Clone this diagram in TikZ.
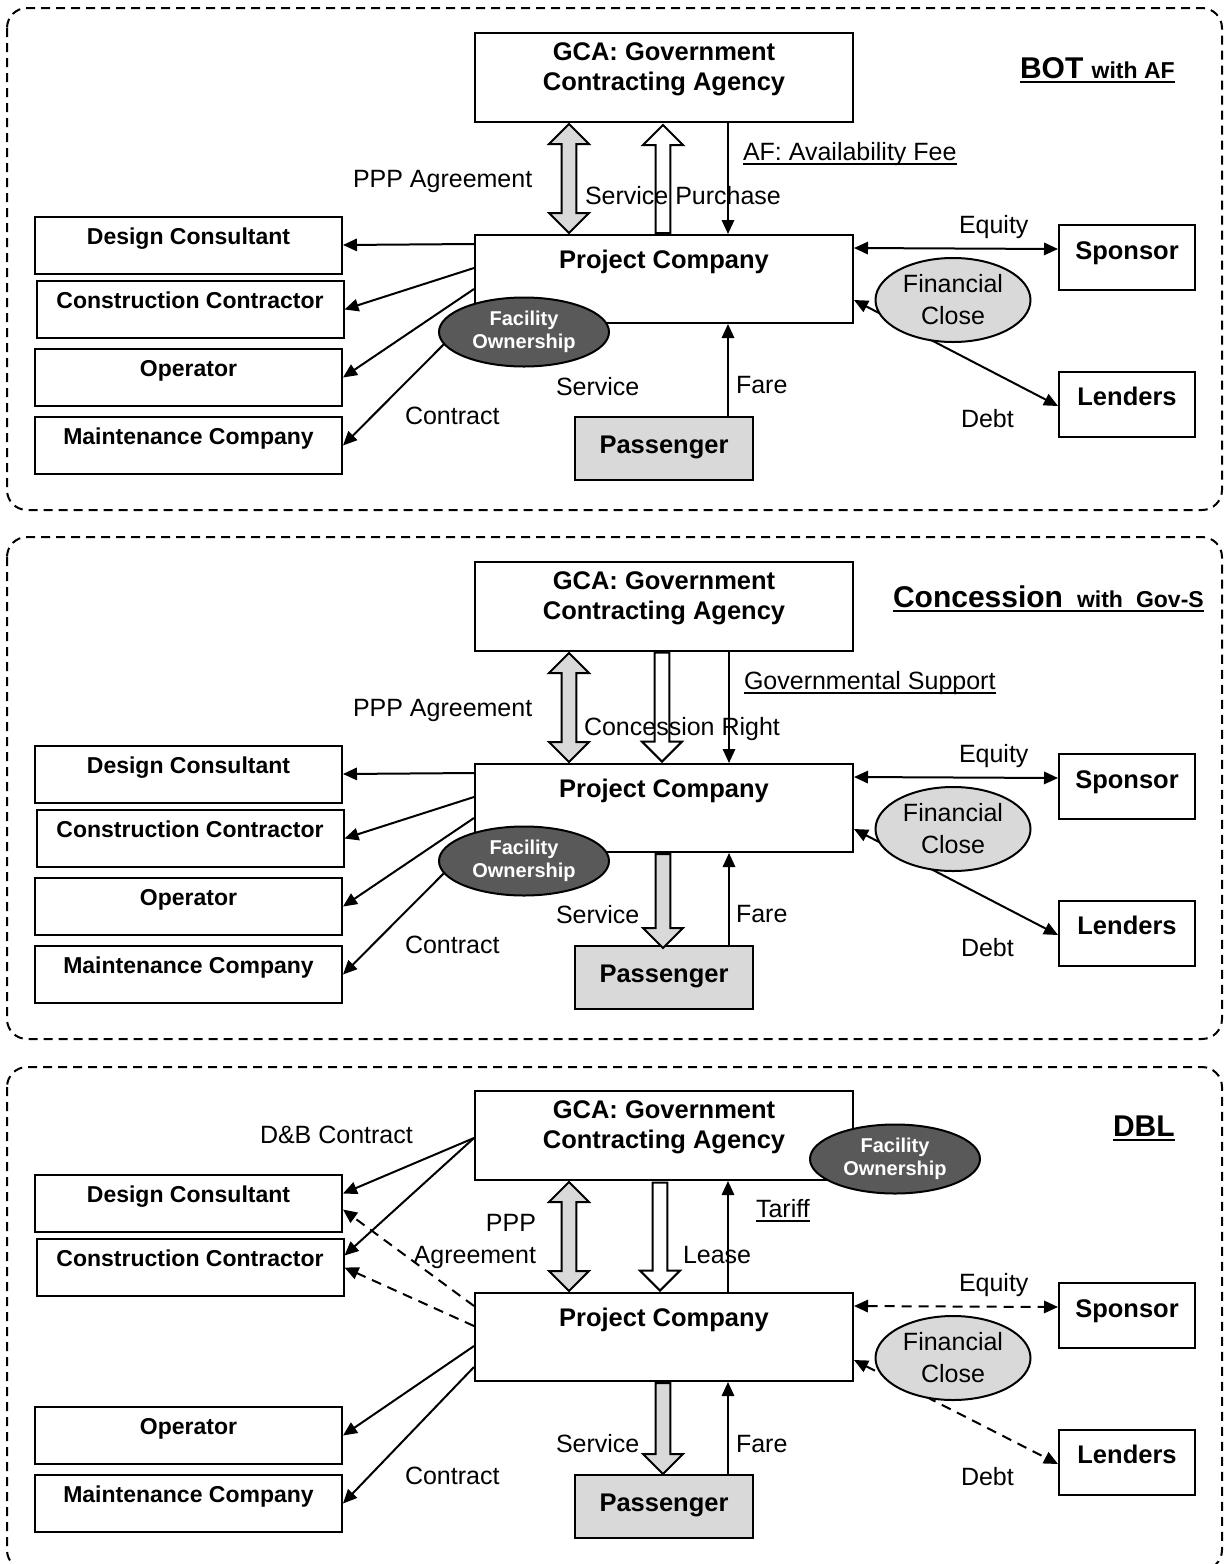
\documentclass[tikz,border=0pt]{standalone}
\usepackage{fontspec}
\setmainfont{Liberation Sans}
\usepackage{tikz}
\usetikzlibrary{shapes,arrows.meta,calc}
\newsavebox{\undlbox}
\newcommand{\undl}[1]{\sbox\undlbox{#1}\rlap{\rule[-2.4pt]{\wd\undlbox}{0.9pt}}\usebox\undlbox}
\newcommand{\boxfont}{\bfseries\fontsize{12.75}{15}\selectfont}
\newcommand{\sidefont}{\bfseries\fontsize{11.5}{14}\selectfont}
\newcommand{\flowfont}{\fontsize{12.5}{16}\selectfont}
\newcommand{\ownfont}{\bfseries\fontsize{10}{11.5}\selectfont}
\newcommand{\twolines}[2]{\begin{tabular}[t]{@{}c@{}}#1\\#2\end{tabular}}
\tikzstyle{agency} = [draw, fill=white, rectangle, minimum width=189pt, inner sep=0pt, font=\boxfont]
\tikzstyle{firm} = [draw, fill=white, rectangle, minimum width=153.5pt, inner sep=0pt, text height=13.75pt, text depth=14.75pt, font=\sidefont]
\tikzstyle{party} = [draw, fill=white, rectangle, minimum width=68pt, inner sep=0pt, text height=17pt, text depth=15.5pt, font=\boxfont]
\tikzstyle{user} = [draw, fill=black!15, rectangle, minimum width=89pt, inner sep=0pt, text height=18pt, text depth=13.5pt, font=\boxfont]
\tikzstyle{ownership} = [draw, ellipse, fill=black!65, text=white, minimum width=85pt, minimum height=34.5pt, inner sep=0pt, align=center, font=\ownfont]
\tikzstyle{closing} = [draw, ellipse, fill=black!15, minimum width=77.5pt, minimum height=42pt, inner sep=0pt, align=center, font=\flowfont]
\tikzstyle{flow} = [inner sep=0pt, anchor=base west, font=\flowfont]
\tikzstyle{twoway} = [draw, fill=black!15, double arrow, rotate=90, double arrow head extend=6.35pt, inner sep=3.15pt, minimum height=54.5pt]
\tikzstyle{grayway} = [draw, fill=black!15, single arrow, single arrow head extend=6.35pt, inner sep=3.15pt]
\tikzstyle{openway} = [draw, fill=white, single arrow, single arrow head extend=6.35pt, inner sep=3.15pt]
\tikzstyle{panel} = [draw, dash pattern=on 4.5pt off 3pt, rounded corners=10pt]
\tikzstyle{pending} = [dash pattern=on 5pt off 3.5pt]

\begin{document}
\begin{tikzpicture}[x=0.5pt, y=-0.5pt, line width=1pt, >={Triangle[length=7pt,width=6.2pt]}]
\useasboundingbox (0,0) rectangle (1223,1564);
% ---------- BOT with AF ----------
\draw[panel] (7,8) rectangle (1222,510);
% Nodes
	\node [agency, text height=13.5pt, text depth=31pt] (GCA1) at (664,77.5) {\twolines{GCA: Government}{Contracting Agency}};
	\node [agency, text height=16.5pt, text depth=27.5pt] (PC1) at (664,279) {Project Company};
	\node [firm] (Design1) at (188.5,245) {Design Consultant};
	\node [firm] (Constr1) at (190,309.5) {Construction Contractor};
	\node [firm] (Oper1) at (188.5,377.5) {Operator};
	\node [firm] (Maint1) at (188.5,445.5) {Maintenance Company};
	\node [party] (Sponsor1) at (1127,257.5) {Sponsor};
	\node [party] (Lenders1) at (1127,404) {Lenders};
	\node [user] (Pass1) at (664,448.5) {Passenger};
% Connections
	\node [twoway] (PPP1) at ($(GCA1.south)!0.5!(PC1.north)+(-95,0)$) {};
	\node [openway, rotate=90, anchor=tail, minimum height=54pt] (Purchase1) at ([xshift=-0.5pt]PC1.north) {};
	\draw [->] ([xshift=32pt]GCA1.south) -- ([xshift=32pt]PC1.north);
	\draw [->] ([yshift=-5pt]PC1.north west) -- (Design1.east);
	\draw [->] ([yshift=-17pt]PC1.north west) -- (Constr1.east);
	\draw [->] ([yshift=-27.5pt]PC1.north west) -- (Oper1.east);
	\draw [->] ([yshift=-40pt]PC1.north west) -- (Maint1.east);
	\draw [->] ([xshift=32pt]Pass1.north) -- ([xshift=32pt]PC1.south);
	\draw [<->] ([yshift=-7pt]PC1.north east) -- ([yshift=4.25pt]Sponsor1.west);
	\draw [<->] ([yshift=-33pt]PC1.north east) -- ([yshift=-1pt]Lenders1.west);
	\node [ownership] (Own1) at (524,332) {Facility\\Ownership};
	\node [closing] (Close1) at (953,300) {Financial\\Close};
% Notations
	\node [flow] (PPPtext1) at (352,187) {PPP Agreement};
	\node [flow] (Purchasetext1) at (584,204) {Service Purchase};
	\node [flow] (AFtext1) at (742,160) {\undl{AF: Availability Fee}};
	\node [flow] (Equitytext1) at (958,233) {Equity};
	\node [flow] (Debttext1) at (960,427) {Debt};
	\node [flow] (Faretext1) at (735,393) {Fare};
	\node [flow] (Servicetext1) at (555,395) {Service};
	\node [flow] (Contracttext1) at (404,424) {Contract};
	\node [flow] (Title1) at (1019,78) {\bfseries\undl{\fontsize{15}{18}\selectfont BOT {\fontsize{11.5}{14}\selectfont with AF}}};

% ---------- Concession with Gov-S ----------
\begin{scope}[shift={(0,529)}]
\draw[panel] (7,8) rectangle (1222,510);
% Nodes
	\node [agency, text height=13.5pt, text depth=31pt] (GCA2) at (664,77.5) {\twolines{GCA: Government}{Contracting Agency}};
	\node [agency, text height=16.5pt, text depth=27.5pt] (PC2) at (664,279) {Project Company};
	\node [firm] (Design2) at (188.5,245) {Design Consultant};
	\node [firm] (Constr2) at (190,309.5) {Construction Contractor};
	\node [firm] (Oper2) at (188.5,377.5) {Operator};
	\node [firm] (Maint2) at (188.5,445.5) {Maintenance Company};
	\node [party] (Sponsor2) at (1127,257.5) {Sponsor};
	\node [party] (Lenders2) at (1127,404) {Lenders};
	\node [user] (Pass2) at (664,448.5) {Passenger};
% Connections
	\node [twoway] (PPP2) at ($(GCA2.south)!0.5!(PC2.north)+(-95,0)$) {};
	\node [openway, rotate=-90, anchor=tip, minimum height=54.5pt] (Right2) at ([xshift=-1pt]PC2.north) {};
	\node [grayway, rotate=-90, anchor=tail, minimum height=47pt] (Service2) at ([xshift=-0.5pt]PC2.south) {};
	\draw [->] ([xshift=32.5pt]GCA2.south) -- ([xshift=32.5pt]PC2.north);
	\draw [->] ([yshift=-5pt]PC2.north west) -- (Design2.east);
	\draw [->] ([yshift=-17pt]PC2.north west) -- (Constr2.east);
	\draw [->] ([yshift=-27.5pt]PC2.north west) -- (Oper2.east);
	\draw [->] ([yshift=-40pt]PC2.north west) -- (Maint2.east);
	\draw [->] ([xshift=32.5pt]Pass2.north) -- ([xshift=32.5pt]PC2.south);
	\draw [<->] ([yshift=-7pt]PC2.north east) -- ([yshift=4.25pt]Sponsor2.west);
	\draw [<->] ([yshift=-33pt]PC2.north east) -- ([yshift=-1pt]Lenders2.west);
	\node [ownership] (Own2) at (524,332) {Facility\\Ownership};
	\node [closing] (Close2) at (953,300) {Financial\\Close};
% Notations
	\node [flow] (PPPtext2) at (352,187) {PPP Agreement};
	\node [flow] (Righttext2) at (583,206) {Concession Right};
	\node [flow] (Supporttext2) at (743,160) {\undl{Governmental Support}};
	\node [flow] (Equitytext2) at (958,233) {Equity};
	\node [flow] (Debttext2) at (960,427) {Debt};
	\node [flow] (Faretext2) at (735,393) {Fare};
	\node [flow] (Servicetext2) at (555,394) {Service};
	\node [flow] (Contracttext2) at (404,424) {Contract};
	\node [flow] (Title2) at (892,78) {\bfseries\undl{\fontsize{15}{18}\selectfont Concession\hspace{7pt}{\fontsize{11.5}{14}\selectfont with\hspace{6.5pt}Gov-S}}};
\end{scope}

% ---------- DBL ----------
\begin{scope}[shift={(0,1058)}]
\draw[panel] (7,9) rectangle (1222,512);
% Nodes
	\node [agency, text height=13.5pt, text depth=31pt] (GCA3) at (664,77.5) {\twolines{GCA: Government}{Contracting Agency}};
	\node [agency, text height=16.5pt, text depth=27.5pt] (PC3) at (664,279) {Project Company};
	\node [firm] (Design3) at (188.5,145.5) {Design Consultant};
	\node [firm] (Constr3) at (190,209.5) {Construction Contractor};
	\node [firm] (Oper3) at (188.5,377.5) {Operator};
	\node [firm] (Maint3) at (188.5,445.5) {Maintenance Company};
	\node [party] (Sponsor3) at (1127,257.5) {Sponsor};
	\node [party] (Lenders3) at (1127,404) {Lenders};
	\node [user] (Pass3) at (664,448.5) {Passenger};
% Connections
	\node [twoway] (PPP3) at ($(GCA3.south)!0.5!(PC3.north)+(-95,0)$) {};
	\node [openway, rotate=-90, anchor=tip, minimum height=54pt] (Lease3) at ([xshift=-2pt]PC3.north) {};
	\node [grayway, rotate=-90, anchor=tail, minimum height=45.5pt] (Service3) at ([xshift=-0.5pt]PC3.south) {};
	\draw [->] ([xshift=32pt]PC3.north) -- ([xshift=32pt]GCA3.south);
	\draw [->] ([yshift=-24pt]GCA3.north west) -- ([yshift=5pt]Design3.east);
	\draw [->] ([yshift=-24pt]GCA3.north west) -- ([yshift=6pt]Constr3.east);
	\draw [->, pending] ([yshift=-7pt]PC3.north west) -- ([yshift=-3pt]Design3.east);
	\draw [->, pending] ([yshift=-17pt]PC3.north west) -- (Constr3.east);
	\draw [->] ([yshift=-27pt]PC3.north west) -- (Oper3.east);
	\draw [->] ([yshift=-37.5pt]PC3.north west) -- (Maint3.east);
	\draw [->] ([xshift=32pt]Pass3.north) -- ([xshift=32pt]PC3.south);
	\draw [<->, pending] ([yshift=-7pt]PC3.north east) -- ([yshift=4.25pt]Sponsor3.west);
	\draw [<->, pending] ([yshift=-34pt]PC3.north east) -- ([yshift=-1pt]Lenders3.west);
	\node [ownership] (Own3) at (895,101) {Facility\\Ownership};
	\node [closing] (Close3) at (953,300) {Financial\\Close};
% Notations
	\node [flow] (DBtext3) at (259,85) {D\&B Contract};
	\node [flow, anchor=north east, align=right] (PPPtext3) at (537,155) {PPP\\Agreement};
	\node [flow] (Leasetext3) at (682,205) {Lease};
	\node [flow] (Tarifftext3) at (755,159) {\undl{Tariff}};
	\node [flow] (Equitytext3) at (958,233) {Equity};
	\node [flow] (Debttext3) at (960,427) {Debt};
	\node [flow] (Faretext3) at (735,394) {Fare};
	\node [flow] (Servicetext3) at (555,394) {Service};
	\node [flow] (Contracttext3) at (404,426) {Contract};
	\node [flow] (Title3) at (1112,78) {\bfseries\undl{\fontsize{15}{18}\selectfont DBL}};
\end{scope}
\end{tikzpicture}
\end{document}
